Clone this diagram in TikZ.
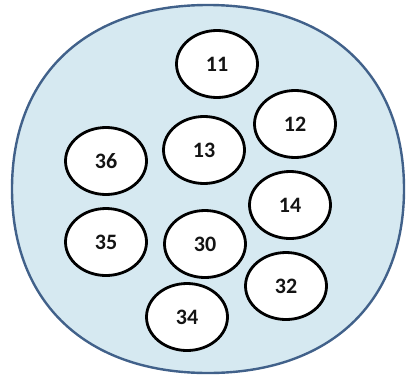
\documentclass[tikz,border=0pt]{standalone}
\usepackage{fontspec}
\setmainfont{Carlito}
\usetikzlibrary{shapes.geometric}

\definecolor{poolfill}{HTML}{D6E9F1}
\definecolor{poolline}{HTML}{41618A}
\definecolor{numink}{HTML}{141414}

\tikzset{
  pool/.style={draw=poolline, line width=2.4pt, fill=poolfill},
  cell/.style={ellipse, draw=black, line width=2.8pt, fill=white,
    minimum width=81pt, minimum height=67pt, inner sep=0pt,
    text=numink, font=\bfseries\fontsize{22}{22}\selectfont}
}

\begin{document}
\begin{tikzpicture}[x=1pt, y=-1pt]
 \useasboundingbox (0,0) rectangle (406,375);

 % the big set (a slightly boxy oval)
 \draw[pool] (12,189) .. controls (12,74.9) and (86.5,5) .. (208,5)
   .. controls (329.5,5) and (404,74.9) .. (404,189)
   .. controls (404,303.1) and (329.5,373) .. (208,373)
   .. controls (86.5,373) and (12,303.1) .. (12,189) -- cycle;

 % members
 \node[cell] (n11) at (217,64) {11};
 \node[cell] (n12) at (295,124) {12};
 \node[cell] (n13) at (204,150) {13};
 \node[cell] (n36) at (106,161) {36};
 \node[cell] (n14) at (290,205) {14};
 \node[cell] (n35) at (106,242) {35};
 \node[cell] (n30) at (205,244) {30};
 \node[cell] (n32) at (286,286) {32};
 \node[cell] (n34) at (187,317) {34};

\end{tikzpicture}
\end{document}
